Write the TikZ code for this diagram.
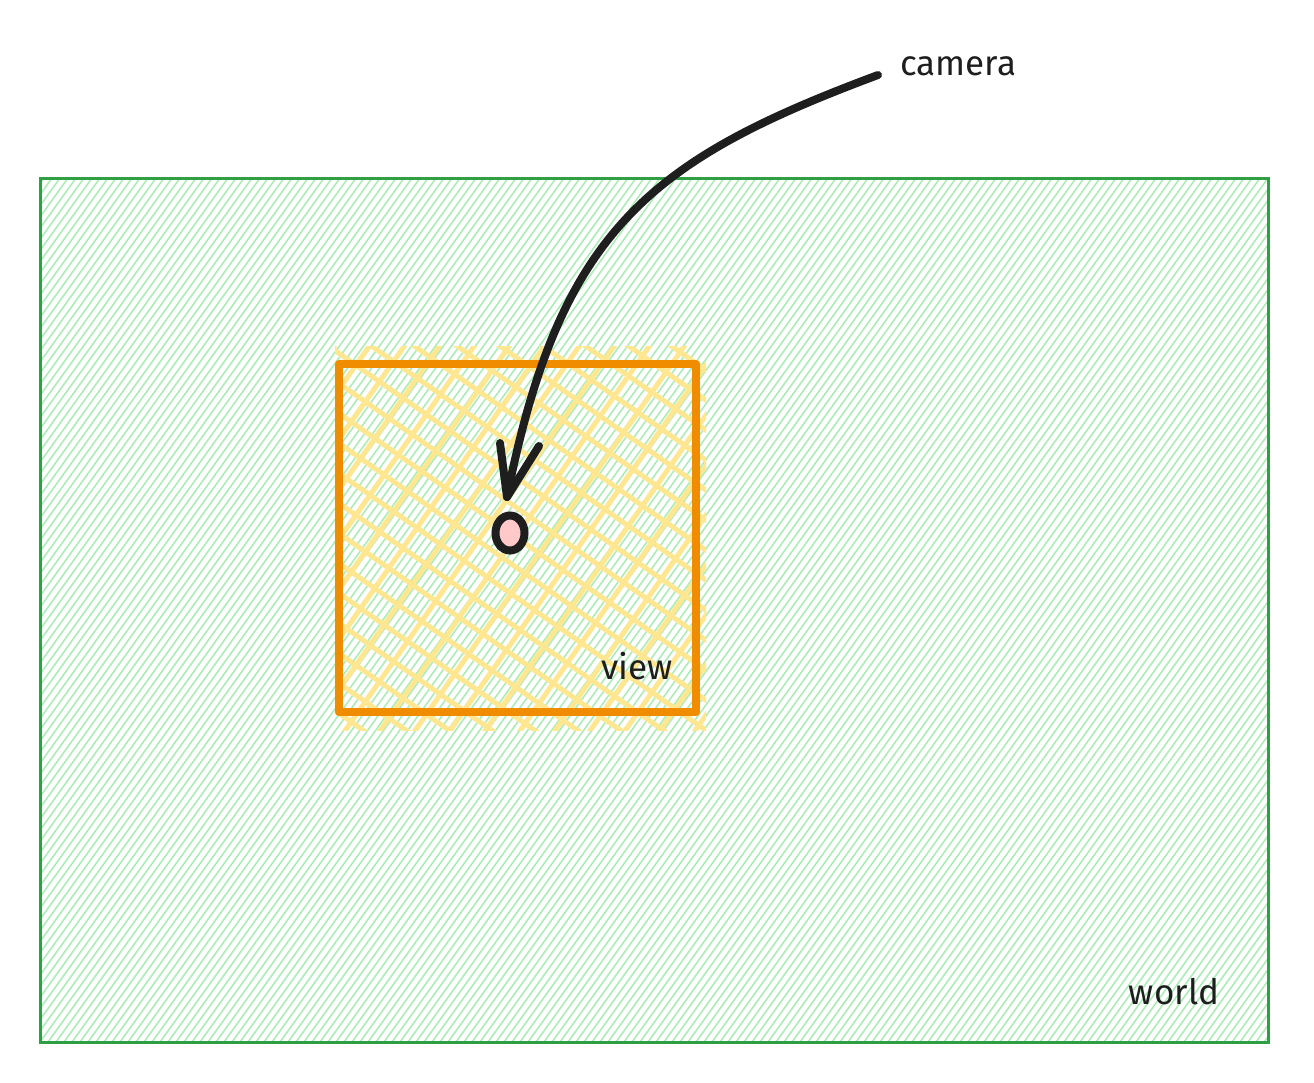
\documentclass[tikz,border=0pt]{standalone}
\usepackage{fontspec}
\usetikzlibrary{shapes.geometric}
\setmainfont{Fira Sans}
\definecolor{worldline}{HTML}{2F9E44}
\definecolor{worldfill}{HTML}{A8EEB4}
\definecolor{viewline}{HTML}{F08C00}
\definecolor{viewfill}{HTML}{FFE791}
\definecolor{ink}{HTML}{1E1E1E}
\definecolor{dotfill}{HTML}{FFC9C9}
\tikzset{
  lbl/.style={font=\fontsize{35}{37}\selectfont, text=ink, inner sep=0pt},
  hatchg/.style={worldfill, line width=1.5pt},
  hatchy/.style={viewfill, line width=5pt},
  arrowline/.style={ink, line width=8pt, line cap=round, line join=round},
}
\begin{document}
\begin{tikzpicture}[x=1pt,y=-1pt]
\useasboundingbox (0,0) rectangle (1314,1082);
\fill[white] (0,0) rectangle (1314,1082);
% world hachure
\begin{scope}
\clip (40,178) rectangle (1268,1042);
\foreach \s in {-640,-632,...,1270} {
  \draw[hatchg] (\s,1042) -- (\s+620,178);
}
\end{scope}
\draw[worldline, line width=3pt] (40,178) rectangle (1268,1042);
\node[lbl] (world) at (1174,992) {world};
% view cross hatch
\begin{scope}
\clip (335,346) rectangle (706,730);
\foreach \s in {10,40,...,760} {
  \draw[hatchy] (320,\s) -- (720,\s+280);
}
\foreach \s in {20,55,...,740} {
  \draw[hatchy] (\s,745) -- (\s+280,345);
}
\end{scope}
\draw[viewline, line width=8pt, line join=round] (339,364) rectangle (696,712);
\node[lbl] (view) at (637,666) {view};
% camera dot
\node[draw=ink, fill=dotfill, line width=8pt, ellipse, minimum width=29pt, minimum height=35pt, inner sep=0pt] (dot) at (510,533) {};
% camera label
\node[lbl, anchor=west] (camera) at (900,66) {camera};
\coordinate (start) at (878,75);
\coordinate (tip) at (507,497);
\draw[arrowline] (start) .. controls (650,160) and (560,230) .. (tip);
\draw[arrowline] (500,443) -- (tip) -- (539,446);
\end{tikzpicture}
\end{document}
